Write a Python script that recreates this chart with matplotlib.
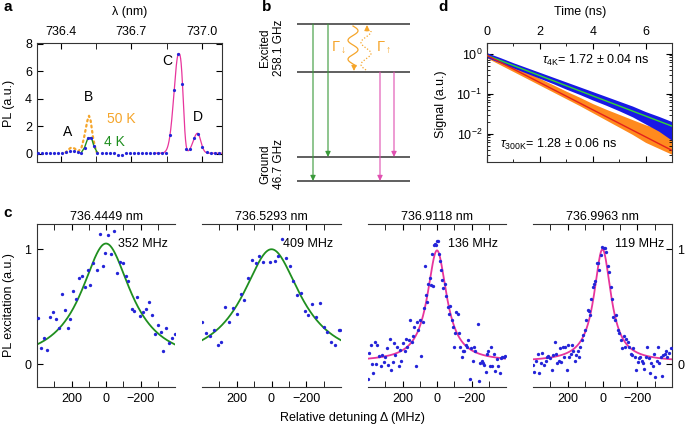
import numpy as np
import matplotlib
matplotlib.use('Agg')
import matplotlib.pyplot as plt
from matplotlib.ticker import MultipleLocator, FixedLocator, LogLocator, NullFormatter

plt.rcParams['font.family'] = ['Liberation Sans', 'DejaVu Sans']
plt.rcParams['mathtext.fontset'] = 'custom'
plt.rcParams['mathtext.rm'] = 'Liberation Sans'
plt.rcParams['mathtext.it'] = 'Liberation Sans:italic'
plt.rcParams['font.size'] = 9
plt.rcParams['axes.linewidth'] = 0.8
plt.rcParams['axes.edgecolor'] = '#333333'

# ---------------- data ----------------
# panel a: PL spectrum (4 K dots), 50 K dotted
a_wl = [736.304, 736.321, 736.338, 736.355, 736.372, 736.389, 736.405, 736.422, 736.439, 736.456,
        736.473, 736.487, 736.501, 736.515, 736.530, 736.541, 736.556, 736.574, 736.591, 736.608,
        736.625, 736.642, 736.659, 736.676, 736.693, 736.710, 736.727, 736.743, 736.760, 736.777,
        736.794, 736.811, 736.829, 736.847, 736.863, 736.882, 736.899, 736.917, 736.934, 736.949,
        736.966, 736.983, 737.001, 737.020, 737.037, 737.054, 737.071]
a_pl = [0.05, 0.04, 0.03, 0.04, 0.05, 0.06, 0.07, 0.12, 0.18, 0.20,
        0.12, 0.08, 0.45, 1.13, 1.18, 0.55, 0.06, 0.03, 0.03, 0.04,
        0.03, -0.10, -0.09, 0.03, 0.04, 0.05, 0.03, 0.05, 0.04, 0.05,
        0.04, 0.06, 0.05, 0.05, 1.37, 4.61, 7.26, 5.09, 0.38, 0.38,
        1.13, 1.42, 0.48, 0.12, 0.02, 0.04, 0.05]
a50_wl = [736.420, 736.431, 736.445, 736.459, 736.473, 736.487, 736.498, 736.506, 736.513, 736.520,
          736.527, 736.532, 736.537, 736.544, 736.551, 736.558]
a50_pl = [0.08, 0.29, 0.46, 0.38, 0.17, 0.38, 1.10, 1.80, 2.40, 2.76,
          2.40, 1.80, 1.20, 0.60, 0.15, 0.05]
# fit of peaks C and D: centre, amplitude, left width, right width, left power, right power
peak_center = [736.901, 736.981]
peak_amp = [7.25, 1.45]
peak_wl = [0.0283, 0.026]
peak_wr = [0.0227, 0.0197]
peak_pl = [2.0, 2.0]
peak_pr = [2.9, 2.0]
peak_base = 0.04
a_labels = ['A', 'B', 'C', 'D']
a_label_wl = [736.43, 736.519, 736.852, 736.983]
a_label_pl = [1.59, 4.11, 6.77, 2.67]

# panel d: lifetime decay bands (log10 of signal), fits
d_t = [0, 0.5, 1, 1.5, 2, 2.5, 3, 3.5, 4, 4.5, 5, 5.5, 6, 6.5, 7]
d_4k_hi = [0.02, -0.10, -0.23, -0.35, -0.47, -0.59, -0.71, -0.83, -0.95, -1.07, -1.19, -1.31, -1.45, -1.57, -1.70]
d_4k_lo = [-0.10, -0.23, -0.36, -0.49, -0.62, -0.75, -0.89, -1.02, -1.16, -1.29, -1.43, -1.58, -1.76, -1.94, -2.17]
d_300_hi = [0.02, -0.14, -0.30, -0.46, -0.62, -0.78, -0.94, -1.09, -1.25, -1.39, -1.52, -1.65, -1.78, -1.88, -1.96]
d_300_lo = [-0.11, -0.28, -0.45, -0.62, -0.79, -0.96, -1.13, -1.30, -1.48, -1.66, -1.84, -2.02, -2.22, -2.37, -2.52]
tau_4k = 1.72
tau_300k = 1.28
d_amp = 0.9

# panel c: PLE scans
c_titles = ['736.4449 nm', '736.5293 nm', '736.9118 nm', '736.9963 nm']
c_fwhm = [352, 409, 136, 119]
c_amp = [1.05, 1.0, 0.97, 0.98]
c_off = [0.0, 0.0, 0.02, 0.02]
c1_det = [394, 374, 359, 343, 323, 308, 290, 274, 257, 239, 223, 208, 190, 172, 155, 139, 123, 106, 90, 74,
          55, 37, 20, 4, -12, -29, -45, -65, -82, -96, -116, -129, -149, -165, -180, -198, -214, -229, -249, -265,
          -282, -300, -316, -333, -349, -367, -382, -398]
c1_val = [0.40, 0.14, 0.23, 0.12, 0.41, 0.45, 0.39, 0.31, 0.61, 0.47, 0.31, 0.39, 0.64, 0.57, 0.75, 0.77, 0.67, 0.82, 0.69, 0.88,
          0.82, 1.13, 0.85, 0.97, 1.12, 0.96, 1.16, 0.79, 0.89, 0.88, 0.77, 0.72, 0.48, 0.46, 0.58, 0.42, 0.45, 0.48, 0.54, 0.43,
          0.26, 0.34, 0.28, 0.11, 0.31, 0.18, 0.23, 0.26]
c2_det = [398, 376, 355, 331, 308, 288, 267, 245, 223, 200, 178, 157, 135, 114, 92, 71, 49, 6, -18, -37,
          -63, -82, -104, -125, -147, -169, -190, -212, -235, -255, -278, -300, -321, -343, -365, -386, -396]
c2_val = [0.37, 0.27, 0.24, 0.30, 0.17, 0.19, 0.50, 0.37, 0.49, 0.44, 0.61, 0.56, 0.75, 0.91, 0.88, 0.94, 0.89, 0.89, 0.90, 0.94,
          1.09, 0.92, 0.85, 0.72, 0.60, 0.62, 0.46, 0.43, 0.52, 0.41, 0.53, 0.32, 0.28, 0.19, 0.17, 0.30, 0.30]
c3_det = [400, 396, 384, 376, 369, 359, 353, 345, 335, 327, 318, 310, 300, 292, 282, 274, 267, 257, 249, 241,
          231, 223, 214, 206, 198, 188, 180, 172, 163, 155, 147, 139, 131, 123, 116, 108, 100, 92, 82, 74,
          67, 63, 57, 51, 43, 35, 31, 25, 20, 14, 8, 2, -6, -12, -19, -25, -29, -37, -45, -53,
          -61, -69, -74, -86, -92, -98, -106, -112, -119, -127, -135, -143, -151, -159, -166, -174, -182, -190, -198, -206,
          -216, -223, -235, -243, -251, -259, -266, -274, -282, -290, -298, -306, -314, -321, -331, -339, -347, -355, -363, -370,
          -378, -386, -394]
c3_val = [-0.13, 0.10, 0.17, 0.00, -0.08, 0.19, 0.00, 0.17, 0.07, -0.02, 0.08, 0.02, 0.06, 0.14, -0.01, 0.22, -0.05, 0.02, 0.18, 0.08,
          0.15, -0.02, 0.12, 0.03, 0.18, 0.11, 0.22, 0.15, 0.21, 0.38, 0.19, 0.24, 0.32, -0.02, 0.37, 0.30, 0.38, 0.07, 0.37, 0.49,
          0.85, 0.60, 0.54, 0.70, 0.75, 0.69, 0.96, 0.68, 1.04, 1.05, 1.04, 1.07, 1.07, 0.96, 0.90, 0.82, 0.73, 0.66, 0.70, 0.59,
          0.50, 0.44, 0.51, 0.38, 0.32, 0.15, 0.27, 0.45, 0.44, 0.27, 0.15, 0.06, 0.11, 0.11, 0.17, 0.15, 0.21, -0.13, 0.14, 0.03,
          0.15, 0.11, 0.35, -0.15, 0.01, 0.03, 0.01, -0.01, -0.07, 0.09, 0.11, -0.02, 0.15, -0.02, 0.09, -0.06, 0.04, -0.02, -0.08, 0.05,
          0.06, 0.06, 0.07]
c4_det = [402, 394, 382, 374, 363, 355, 347, 335, 327, 319, 312, 304, 292, 284, 276, 268, 261, 253, 245, 237,
          229, 221, 214, 206, 198, 190, 182, 174, 167, 159, 151, 143, 135, 127, 120, 110, 102, 94, 86, 80,
          72, 65, 57, 49, 41, 33, 25, 18, 10, 2, -6, -14, -22, -29, -37, -47, -55, -63, -71, -80,
          -88, -96, -104, -114, -122, -129, -137, -145, -153, -163, -171, -178, -186, -194, -202, -210, -218, -225, -233, -241,
          -249, -257, -265, -272, -280, -288, -296, -304, -312, -320, -327, -335, -343, -351, -359, -367, -374, -382, -394]
c4_val = [-0.01, -0.07, 0.03, 0.09, -0.08, 0.01, 0.10, -0.01, 0.03, 0.06, 0.07, 0.05, -0.05, 0.08, 0.19, 0.09, 0.01, 0.03, 0.14, 0.02,
          0.15, 0.06, 0.15, -0.05, 0.17, 0.06, 0.09, 0.17, 0.11, 0.03, 0.08, 0.11, 0.06, 0.15, 0.21, 0.25, 0.30, 0.38, 0.47, 0.46,
          0.43, 0.57, 0.67, 0.70, 0.72, 0.88, 0.88, 0.82, 0.95, 1.02, 1.01, 1.01, 0.98, 0.85, 0.80, 0.67, 0.57, 0.41, 0.38, 0.43,
          0.30, 0.27, 0.21, 0.14, 0.24, 0.15, 0.22, 0.19, 0.15, 0.09, 0.08, 0.14, 0.06, -0.05, 0.02, 0.05, 0.06, 0.03, 0.01, -0.04,
          0.06, 0.15, 0.05, -0.08, 0.01, -0.02, 0.09, -0.11, 0.03, 0.15, 0.01, 0.06, -0.10, 0.08, 0.09, 0.11, 0.06, 0.10, 0.14]
c_det = [c1_det, c2_det, c3_det, c4_det]
c_val = [c1_val, c2_val, c3_val, c4_val]

# ---------------- style ----------------
BLUE = '#2424d8'
GREEN = '#1f8f1f'
PINK = '#e8359c'
ORANGE = '#f5a52a'
D_BLUE = '#1818e6'
D_ORANGE = '#ff8a1e'
D_GREEN = '#33d633'
D_RED = '#e3201c'

W, H = 685, 429
fig = plt.figure(figsize=(W / 100, H / 100), dpi=100)


def add_px(x0, y0, x1, y1, **kw):
    return fig.add_axes([x0 / W, 1 - y1 / H, (x1 - x0) / W, (y1 - y0) / H], **kw)


# ---------------- panel a ----------------
ax = add_px(37, 43, 222, 162)
ax.set_xlim(736.299, 737.085)
ax.set_ylim(-0.6, 8.05)
wl = np.array(a_wl)
pl = np.array(a_pl)
mB = (wl > 736.48) & (wl < 736.56)
ax.plot(wl[mB], pl[mB], color=GREEN, lw=1.0, zorder=2)
ax.plot(a50_wl, a50_pl, color=ORANGE, lw=1.6, ls=(0, (0.8, 1.6)), dash_capstyle='round', zorder=1)
xf = np.linspace(736.80, 737.085, 400)
yf = np.full_like(xf, peak_base)
for c0, A, wl_, wr_, pl_, pr_ in zip(peak_center, peak_amp, peak_wl, peak_wr, peak_pl, peak_pr):
    d = xf - c0
    w = np.where(d < 0, wl_, wr_)
    p = np.where(d < 0, pl_, pr_)
    yf = yf + A * np.exp(-(np.abs(d) / w) ** p)
ax.plot(xf, yf, color=PINK, lw=0.9, zorder=2)
ax.plot(wl, pl, 'o', color=BLUE, ms=2.3, mew=0, zorder=3)
for lab, x, y in zip(a_labels, a_label_wl, a_label_pl):
    ax.text(x, y, lab, ha='center', va='center', fontsize=10)
ax.text(736.596, 2.55, '50 K', color=ORANGE, fontsize=10, ha='left', va='center')
ax.text(736.585, 0.86, '4 K', color=GREEN, fontsize=10, ha='left', va='center')
ax.xaxis.set_major_locator(FixedLocator([736.4, 736.7, 737.0]))
ax.xaxis.set_minor_locator(FixedLocator([736.55, 736.85]))
ax.xaxis.set_major_formatter(plt.FuncFormatter(lambda v, p: f'{v:.1f}'))
ax.yaxis.set_major_locator(MultipleLocator(2))
ax.tick_params(axis='both', which='both', direction='in', top=True, right=True,
               labeltop=True, labelbottom=False, labelsize=9, pad=3.5)
ax.tick_params(which='major', length=4)
ax.tick_params(which='minor', length=4)
fig.text(130 / W, 1 - 12 / H, 'λ (nm)', ha='center', va='center', fontsize=9)
fig.text(9 / W, 1 - 103 / H, 'PL (a.u.)', ha='center', va='center', rotation=90, fontsize=9)

# ---------------- panel b ----------------
axb = add_px(240, 12, 430, 195)
axb.set_xlim(240, 430)
axb.set_ylim(195, 12)
axb.axis('off')
level_y = [24, 72, 157, 181]
level_x = (297, 410)
for y in level_y:
    axb.plot(level_x, [y, y], color='#444444', lw=1.2, solid_capstyle='butt')
transitions = [(313, 24, 181, '#3a9a3a'), (328, 24, 157, '#3a9a3a'),
               (380, 72, 181, '#e050b0'), (394, 72, 157, '#e050b0')]
for x, y0, y1, col in transitions:
    axb.annotate('', xy=(x, y1), xytext=(x, y0),
                 arrowprops=dict(arrowstyle='-|>,head_length=0.35,head_width=0.17', color=col,
                                 lw=0.8, shrinkA=0, shrinkB=0))
yw = np.linspace(26, 66, 200)
axb.plot(353 + 5 * np.sin(2 * np.pi * (yw - 26) / 19), yw, color=ORANGE, lw=0.9)
axb.annotate('', xy=(354, 71), xytext=(354, 65),
             arrowprops=dict(arrowstyle='-|>,head_length=0.35,head_width=0.17', color=ORANGE,
                             lw=0.8, shrinkA=0, shrinkB=0))
yw2 = np.linspace(70, 31, 200)
axb.plot(366 + 5 * np.sin(2 * np.pi * (yw2 - 70) / 22), yw2, color=ORANGE, lw=0.9, ls=(0, (1, 1.5)))
axb.annotate('', xy=(367, 25), xytext=(367, 31),
             arrowprops=dict(arrowstyle='-|>,head_length=0.35,head_width=0.17', color=ORANGE,
                             lw=0.8, shrinkA=0, shrinkB=0))
axb.text(339, 47, r'$\mathit{\Gamma}_{\downarrow}$', color=ORANGE, fontsize=10.5, ha='center', va='center')
axb.text(384, 47, r'$\mathit{\Gamma}_{\uparrow}$', color=ORANGE, fontsize=10.5, ha='center', va='center')
axb.text(272, 48, 'Excited\n258.1 GHz', rotation=90, ha='center', va='center', fontsize=8.5,
         linespacing=1.15, multialignment='center')
axb.text(272, 164, 'Ground\n46.7 GHz', rotation=90, ha='center', va='center', fontsize=8.5,
         linespacing=1.15, multialignment='center')

# ---------------- panel d ----------------
axd = add_px(487, 43, 672, 162)
axd.set_yscale('log')
t = np.array(d_t)
axd.fill_between(t, 10 ** np.array(d_300_lo), 10 ** np.array(d_300_hi), color=D_ORANGE, lw=0, zorder=1)
axd.fill_between(t, 10 ** np.array(d_4k_lo), 10 ** np.array(d_4k_hi), color=D_BLUE, lw=0, zorder=2)
tf = np.linspace(0, 7, 100)
axd.plot(tf, d_amp * np.exp(-tf / tau_4k), color=D_GREEN, lw=1.0, zorder=3)
axd.plot(tf, d_amp * np.exp(-tf / tau_300k), color=D_RED, lw=1.0, zorder=3)
axd.set_xlim(0, 7)
axd.set_ylim(10 ** -2.71, 10 ** 0.265)
axd.xaxis.set_major_locator(MultipleLocator(2))
axd.xaxis.set_minor_locator(MultipleLocator(1))
axd.yaxis.set_major_locator(LogLocator(base=10, numticks=10))
axd.yaxis.set_minor_locator(LogLocator(base=10, subs=np.arange(2, 10), numticks=10))
axd.yaxis.set_minor_formatter(NullFormatter())
axd.tick_params(axis='both', which='both', direction='in', top=True, right=True,
                labeltop=True, labelbottom=False, labelsize=9, pad=3.5)
axd.tick_params(which='major', length=4)
axd.tick_params(which='minor', length=2.5)
axd.text(0.30, 0.85, r'$\tau_{\rm 4K}$= 1.72 ± 0.04 ns', transform=axd.transAxes, fontsize=9, ha='left', va='center')
axd.text(0.07, 0.15, r'$\tau_{\rm 300K}$= 1.28 ± 0.06 ns', transform=axd.transAxes, fontsize=9, ha='left', va='center')
fig.text(580 / W, 1 - 12 / H, 'Time (ns)', ha='center', va='center', fontsize=9)
fig.text(441 / W, 1 - 104 / H, 'Signal (a.u.)', ha='center', va='center', rotation=90, fontsize=9)

# ---------------- panel c ----------------
c_boxes = [(37, 175), (202, 341), (368, 506), (533, 672)]
for i, (x0, x1) in enumerate(c_boxes):
    axc = add_px(x0, 224, x1, 387)
    col = GREEN if i < 2 else PINK
    xf = np.linspace(400, -400, 400)
    g = c_fwhm[i] / 2
    axc.plot(xf, c_off[i] + c_amp[i] / (1 + (xf / g) ** 2), color=col, lw=1.3, zorder=2)
    axc.plot(c_det[i], c_val[i], 'o', color=BLUE, ms=2.4, mew=0, zorder=3)
    axc.set_xlim(400, -400)
    axc.set_ylim(-0.2, 1.22)
    axc.set_title(c_titles[i], fontsize=9, pad=3)
    axc.text(0.945, 0.88, f'{c_fwhm[i]} MHz', transform=axc.transAxes, ha='right', va='center', fontsize=9)
    axc.xaxis.set_major_locator(FixedLocator([200, 0, -200]))
    axc.xaxis.set_minor_locator(FixedLocator([300, 100, -100, -300]))
    axc.tick_params(axis='x', which='both', direction='in', top=True, bottom=True, labelsize=9, pad=4)
    axc.tick_params(axis='x', which='major', length=4)
    axc.tick_params(axis='x', which='minor', length=4)
    axc.yaxis.set_major_locator(FixedLocator([0, 1]))
    axc.spines['right'].set_visible(i == 3)
    axc.spines['left'].set_visible(i == 0)
    if i == 0:
        axc.tick_params(axis='y', direction='in', left=True, right=False, labelsize=9, length=4, pad=4)
    elif i == 3:
        axc.tick_params(axis='y', direction='in', left=False, right=True, labelleft=False,
                        labelright=True, labelsize=9, length=4, pad=4)
    else:
        axc.tick_params(axis='y', left=False, right=False, labelleft=False)
fig.text(9 / W, 1 - 305 / H, 'PL excitation (a.u.)', ha='center', va='center', rotation=90, fontsize=9)
fig.text(352 / W, 1 - 418 / H, 'Relative detuning Δ (MHz)', ha='center', va='center', fontsize=9)

# panel letters
for lab, x, y in [('a', 3, 7), ('b', 262, 7), ('d', 438, 7), ('c', 3, 213)]:
    fig.text(x / W, 1 - y / H, lab, ha='left', va='center', fontsize=11, fontweight='bold')

fig.savefig('out.png', dpi=100)
